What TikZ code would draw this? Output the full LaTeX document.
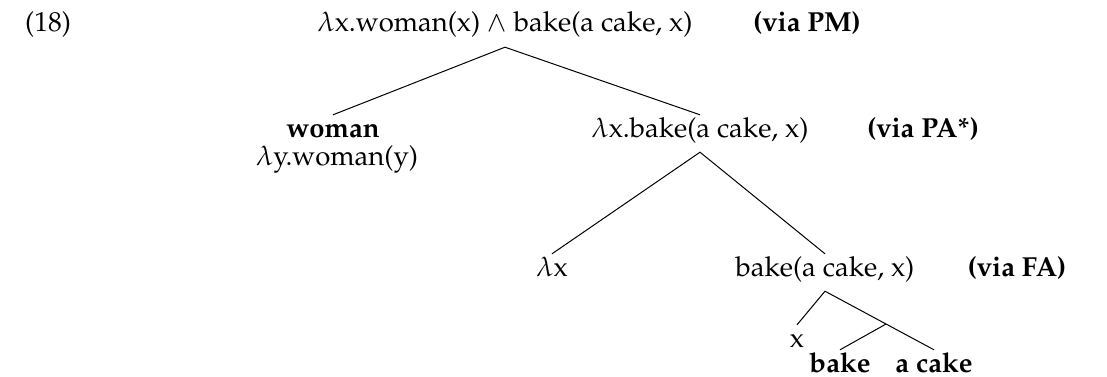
\documentclass[tikz,border=0pt]{standalone}
\usepackage[T1]{fontenc}
\usepackage{mathpazo}
\usetikzlibrary{calc}
\begin{document}
\begin{tikzpicture}[x=1pt,y=-1pt,
  lbl/.style={anchor=base,inner sep=0pt,font=\fontsize{27.5}{33}\selectfont},
  tn/.style={anchor=base,font=\fontsize{27.5}{33}\selectfont,
    text height=14pt,text depth=7pt,inner xsep=0pt,inner ysep=8pt},
  branch/.style={line width=1pt}]
\useasboundingbox (0,0) rectangle (1107,377);
% example number and rule annotations
\node[lbl] (num) at (48,32) {(18)};
\node[lbl] (viapm) at (807,32) {\textbf{(via PM)}};
\node[lbl] (viapa) at (923,137) {\textbf{(via PA*)}};
\node[lbl] (viafa) at (1017,276) {\textbf{(via FA)}};
% tree nodes
\node[tn] (root) at (505,32) {$\lambda$x.woman(x) $\wedge$ bake(a cake, x)};
\node[tn] (woman) at (333,137) {\textbf{woman}};
\node[lbl] (wsem) at (337,165) {$\lambda$y.woman(y)};
\node[tn] (lxb) at (700,137) {$\lambda$x.bake(a cake, x)};
\node[tn] (lx) at (552,276) {$\lambda$x};
\node[tn] (bax) at (825,276) {bake(a cake, x)};
\node[tn] (xx) at (797,347) {x};
\node[tn] (bake) at (840,372) {\textbf{bake}};
\node[tn] (acake) at (934,372) {\textbf{a cake}};
% branches
\draw[branch] (woman.north) -- (root.south) -- (lxb.north);
\draw[branch] (lx.north) -- (lxb.south) -- (bax.north);
\draw[branch] (xx.north) -- (bax.south) -- (acake.north);
\coordinate (bc) at ($(bax.south)!0.56!(acake.north)$);
\draw[branch] (bc) -- (bake.north);
\end{tikzpicture}
\end{document}
